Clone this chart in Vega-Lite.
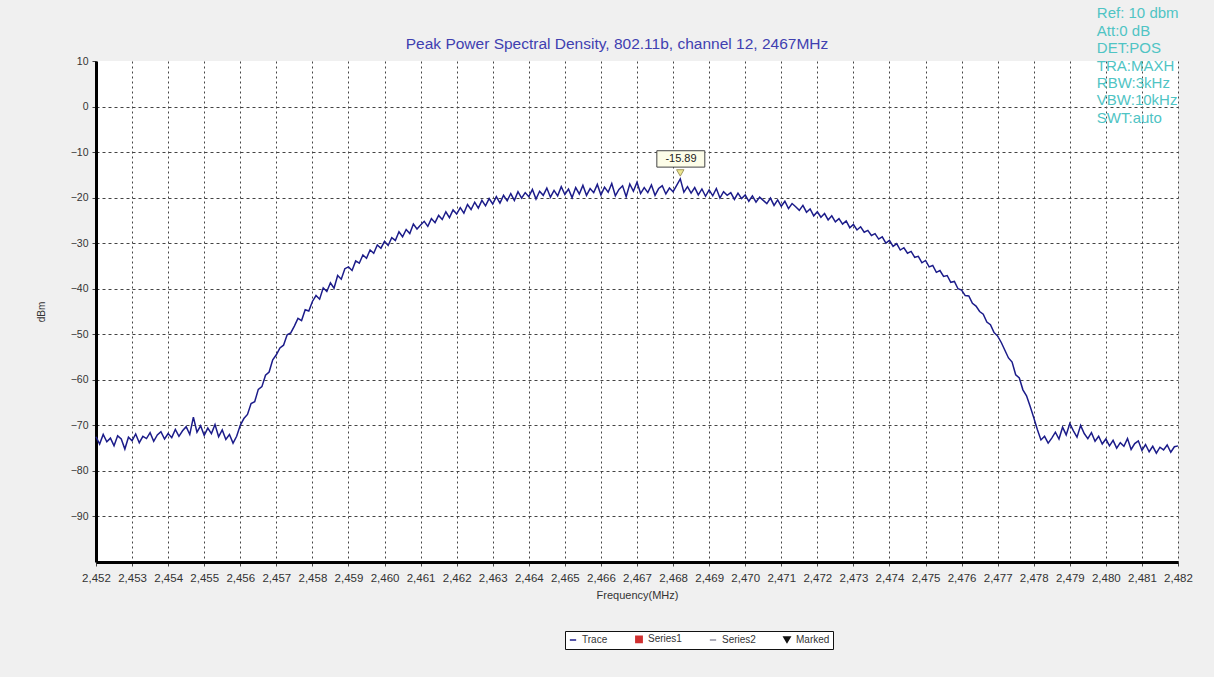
{
"$schema": "https://vega.github.io/schema/vega-lite/v6.json",
"width": 1082, "height": 501,
"autosize": {"type": "none"},
"padding": {"left": 96, "top": 61, "right": 36, "bottom": 115},
"background": "#f0f0f0",
"config": {"font": "Liberation Sans", "view": {"stroke": null, "fill": "white"},
"legend": {"orient": "none", "legendX": 469, "legendY": 570, "direction": "horizontal", "strokeColor": "#111", "fillColor": "white", "padding": 3, "labelFontSize": 10, "labelColor": "#333", "symbolSize": 40, "columnPadding": 24, "labelOffset": 4, "symbolStrokeWidth": 1.5, "labelBaseline": "middle"}},
"title": {"text": "Peak Power Spectral Density, 802.11b, channel 12, 2467MHz", "color": "#4040b0", "fontSize": 15.5, "fontWeight": "normal", "font": "Liberation Sans", "offset": 11, "dx": -20, "dy": 57},
"datasets": {
"trace": [
{"freq":2.4520,"dbm":-72.5},{"freq":2.4521,"dbm":-74.1},{"freq":2.4522,"dbm":-72.0},{"freq":2.4523,"dbm":-73.6},{"freq":2.4524,"dbm":-72.8},{"freq":2.4525,"dbm":-74.5},{"freq":2.4526,"dbm":-72.3},{"freq":2.4527,"dbm":-73.0},{"freq":2.4528,"dbm":-75.2},{"freq":2.4529,"dbm":-72.6},
{"freq":2.4530,"dbm":-73.4},{"freq":2.4531,"dbm":-71.9},{"freq":2.4532,"dbm":-73.8},{"freq":2.4533,"dbm":-72.4},{"freq":2.4534,"dbm":-72.9},{"freq":2.4535,"dbm":-71.6},{"freq":2.4536,"dbm":-73.5},{"freq":2.4537,"dbm":-72.1},{"freq":2.4538,"dbm":-71.4},{"freq":2.4539,"dbm":-73.0},
{"freq":2.4540,"dbm":-71.8},{"freq":2.4541,"dbm":-72.7},{"freq":2.4542,"dbm":-70.9},{"freq":2.4543,"dbm":-72.4},{"freq":2.4544,"dbm":-71.2},{"freq":2.4545,"dbm":-70.3},{"freq":2.4546,"dbm":-72.0},{"freq":2.4547,"dbm":-68.2},{"freq":2.4548,"dbm":-71.5},{"freq":2.4549,"dbm":-70.1},
{"freq":2.4550,"dbm":-72.2},{"freq":2.4551,"dbm":-70.6},{"freq":2.4552,"dbm":-71.8},{"freq":2.4553,"dbm":-69.8},{"freq":2.4554,"dbm":-72.5},{"freq":2.4555,"dbm":-71.0},{"freq":2.4556,"dbm":-73.1},{"freq":2.4557,"dbm":-72.0},{"freq":2.4558,"dbm":-73.9},{"freq":2.4559,"dbm":-72.4},
{"freq":2.4560,"dbm":-70.0},{"freq":2.4561,"dbm":-68.5},{"freq":2.4562,"dbm":-67.6},{"freq":2.4563,"dbm":-65.2},{"freq":2.4564,"dbm":-64.8},{"freq":2.4565,"dbm":-62.1},{"freq":2.4566,"dbm":-61.5},{"freq":2.4567,"dbm":-59.0},{"freq":2.4568,"dbm":-58.3},{"freq":2.4569,"dbm":-55.6},
{"freq":2.4570,"dbm":-54.5},{"freq":2.4571,"dbm":-53.0},{"freq":2.4572,"dbm":-52.4},{"freq":2.4573,"dbm":-50.1},{"freq":2.4574,"dbm":-49.7},{"freq":2.4575,"dbm":-48.2},{"freq":2.4576,"dbm":-46.5},{"freq":2.4577,"dbm":-47.0},{"freq":2.4578,"dbm":-44.6},{"freq":2.4579,"dbm":-44.9},
{"freq":2.4580,"dbm":-42.8},{"freq":2.4581,"dbm":-41.5},{"freq":2.4582,"dbm":-42.3},{"freq":2.4583,"dbm":-39.8},{"freq":2.4584,"dbm":-40.6},{"freq":2.4585,"dbm":-38.7},{"freq":2.4586,"dbm":-39.9},{"freq":2.4587,"dbm":-37.1},{"freq":2.4588,"dbm":-37.9},{"freq":2.4589,"dbm":-35.6},
{"freq":2.4590,"dbm":-35.2},{"freq":2.4591,"dbm":-36.0},{"freq":2.4592,"dbm":-33.9},{"freq":2.4593,"dbm":-34.4},{"freq":2.4594,"dbm":-32.6},{"freq":2.4595,"dbm":-33.3},{"freq":2.4596,"dbm":-31.5},{"freq":2.4597,"dbm":-32.2},{"freq":2.4598,"dbm":-30.4},{"freq":2.4599,"dbm":-31.1},
{"freq":2.4600,"dbm":-29.6},{"freq":2.4601,"dbm":-30.5},{"freq":2.4602,"dbm":-28.8},{"freq":2.4603,"dbm":-29.4},{"freq":2.4604,"dbm":-27.5},{"freq":2.4605,"dbm":-28.6},{"freq":2.4606,"dbm":-27.0},{"freq":2.4607,"dbm":-27.9},{"freq":2.4608,"dbm":-25.8},{"freq":2.4609,"dbm":-26.9},
{"freq":2.4610,"dbm":-26.0},{"freq":2.4611,"dbm":-25.2},{"freq":2.4612,"dbm":-26.3},{"freq":2.4613,"dbm":-24.6},{"freq":2.4614,"dbm":-25.5},{"freq":2.4615,"dbm":-23.9},{"freq":2.4616,"dbm":-24.8},{"freq":2.4617,"dbm":-23.1},{"freq":2.4618,"dbm":-24.4},{"freq":2.4619,"dbm":-22.7},
{"freq":2.4620,"dbm":-23.6},{"freq":2.4621,"dbm":-22.2},{"freq":2.4622,"dbm":-23.4},{"freq":2.4623,"dbm":-21.5},{"freq":2.4624,"dbm":-22.6},{"freq":2.4625,"dbm":-21.0},{"freq":2.4626,"dbm":-22.3},{"freq":2.4627,"dbm":-20.6},{"freq":2.4628,"dbm":-21.8},{"freq":2.4629,"dbm":-20.2},
{"freq":2.4630,"dbm":-21.4},{"freq":2.4631,"dbm":-19.8},{"freq":2.4632,"dbm":-21.2},{"freq":2.4633,"dbm":-19.5},{"freq":2.4634,"dbm":-20.7},{"freq":2.4635,"dbm":-19.1},{"freq":2.4636,"dbm":-20.6},{"freq":2.4637,"dbm":-18.7},{"freq":2.4638,"dbm":-20.1},{"freq":2.4639,"dbm":-18.9},
{"freq":2.4640,"dbm":-19.8},{"freq":2.4641,"dbm":-18.2},{"freq":2.4642,"dbm":-20.3},{"freq":2.4643,"dbm":-18.6},{"freq":2.4644,"dbm":-19.5},{"freq":2.4645,"dbm":-17.9},{"freq":2.4646,"dbm":-19.9},{"freq":2.4647,"dbm":-18.4},{"freq":2.4648,"dbm":-19.6},{"freq":2.4649,"dbm":-17.6},
{"freq":2.4650,"dbm":-19.3},{"freq":2.4651,"dbm":-18.1},{"freq":2.4652,"dbm":-20.0},{"freq":2.4653,"dbm":-17.8},{"freq":2.4654,"dbm":-19.2},{"freq":2.4655,"dbm":-17.3},{"freq":2.4656,"dbm":-19.5},{"freq":2.4657,"dbm":-18.0},{"freq":2.4658,"dbm":-18.9},{"freq":2.4659,"dbm":-17.1},
{"freq":2.4660,"dbm":-19.4},{"freq":2.4661,"dbm":-17.7},{"freq":2.4662,"dbm":-18.8},{"freq":2.4663,"dbm":-16.9},{"freq":2.4664,"dbm":-19.6},{"freq":2.4665,"dbm":-18.2},{"freq":2.4666,"dbm":-17.4},{"freq":2.4667,"dbm":-19.8},{"freq":2.4668,"dbm":-17.0},{"freq":2.4669,"dbm":-18.6},
{"freq":2.4670,"dbm":-16.6},{"freq":2.4671,"dbm":-19.1},{"freq":2.4672,"dbm":-17.8},{"freq":2.4673,"dbm":-18.9},{"freq":2.4674,"dbm":-17.2},{"freq":2.4675,"dbm":-19.5},{"freq":2.4676,"dbm":-18.0},{"freq":2.4677,"dbm":-17.4},{"freq":2.4678,"dbm":-19.2},{"freq":2.4679,"dbm":-17.9},
{"freq":2.4680,"dbm":-18.7},{"freq":2.4681,"dbm":-17.3},{"freq":2.4682,"dbm":-15.89},{"freq":2.4683,"dbm":-18.8},{"freq":2.4684,"dbm":-17.6},{"freq":2.4685,"dbm":-19.0},{"freq":2.4686,"dbm":-17.8},{"freq":2.4687,"dbm":-19.4},{"freq":2.4688,"dbm":-18.1},{"freq":2.4689,"dbm":-19.7},
{"freq":2.4690,"dbm":-18.3},{"freq":2.4691,"dbm":-19.6},{"freq":2.4692,"dbm":-18.0},{"freq":2.4693,"dbm":-20.1},{"freq":2.4694,"dbm":-18.7},{"freq":2.4695,"dbm":-19.5},{"freq":2.4696,"dbm":-18.9},{"freq":2.4697,"dbm":-20.4},{"freq":2.4698,"dbm":-19.0},{"freq":2.4699,"dbm":-20.2},
{"freq":2.4700,"dbm":-19.4},{"freq":2.4701,"dbm":-20.8},{"freq":2.4702,"dbm":-19.6},{"freq":2.4703,"dbm":-21.0},{"freq":2.4704,"dbm":-19.9},{"freq":2.4705,"dbm":-20.6},{"freq":2.4706,"dbm":-21.3},{"freq":2.4707,"dbm":-20.1},{"freq":2.4708,"dbm":-21.7},{"freq":2.4709,"dbm":-20.5},
{"freq":2.4710,"dbm":-21.9},{"freq":2.4711,"dbm":-20.8},{"freq":2.4712,"dbm":-22.4},{"freq":2.4713,"dbm":-21.3},{"freq":2.4714,"dbm":-22.0},{"freq":2.4715,"dbm":-22.8},{"freq":2.4716,"dbm":-21.7},{"freq":2.4717,"dbm":-23.2},{"freq":2.4718,"dbm":-22.5},{"freq":2.4719,"dbm":-24.0},
{"freq":2.4720,"dbm":-23.1},{"freq":2.4721,"dbm":-24.3},{"freq":2.4722,"dbm":-23.5},{"freq":2.4723,"dbm":-24.9},{"freq":2.4724,"dbm":-24.0},{"freq":2.4725,"dbm":-25.3},{"freq":2.4726,"dbm":-24.6},{"freq":2.4727,"dbm":-25.8},{"freq":2.4728,"dbm":-25.1},{"freq":2.4729,"dbm":-26.6},
{"freq":2.4730,"dbm":-25.9},{"freq":2.4731,"dbm":-27.1},{"freq":2.4732,"dbm":-26.4},{"freq":2.4733,"dbm":-27.6},{"freq":2.4734,"dbm":-27.2},{"freq":2.4735,"dbm":-28.3},{"freq":2.4736,"dbm":-27.9},{"freq":2.4737,"dbm":-29.1},{"freq":2.4738,"dbm":-28.6},{"freq":2.4739,"dbm":-30.0},
{"freq":2.4740,"dbm":-29.4},{"freq":2.4741,"dbm":-30.7},{"freq":2.4742,"dbm":-30.1},{"freq":2.4743,"dbm":-31.5},{"freq":2.4744,"dbm":-31.0},{"freq":2.4745,"dbm":-32.2},{"freq":2.4746,"dbm":-31.8},{"freq":2.4747,"dbm":-33.1},{"freq":2.4748,"dbm":-32.9},{"freq":2.4749,"dbm":-34.3},
{"freq":2.4750,"dbm":-33.8},{"freq":2.4751,"dbm":-35.2},{"freq":2.4752,"dbm":-34.9},{"freq":2.4753,"dbm":-36.4},{"freq":2.4754,"dbm":-36.0},{"freq":2.4755,"dbm":-37.3},{"freq":2.4756,"dbm":-37.1},{"freq":2.4757,"dbm":-38.6},{"freq":2.4758,"dbm":-38.4},{"freq":2.4759,"dbm":-40.0},
{"freq":2.4760,"dbm":-40.3},{"freq":2.4761,"dbm":-41.5},{"freq":2.4762,"dbm":-41.6},{"freq":2.4763,"dbm":-43.2},{"freq":2.4764,"dbm":-43.8},{"freq":2.4765,"dbm":-45.0},{"freq":2.4766,"dbm":-45.6},{"freq":2.4767,"dbm":-47.3},{"freq":2.4768,"dbm":-47.9},{"freq":2.4769,"dbm":-49.6},
{"freq":2.4770,"dbm":-50.4},{"freq":2.4771,"dbm":-51.8},{"freq":2.4772,"dbm":-53.5},{"freq":2.4773,"dbm":-55.2},{"freq":2.4774,"dbm":-56.1},{"freq":2.4775,"dbm":-58.9},{"freq":2.4776,"dbm":-59.6},{"freq":2.4777,"dbm":-62.2},{"freq":2.4778,"dbm":-63.5},{"freq":2.4779,"dbm":-65.8},
{"freq":2.4780,"dbm":-68.3},{"freq":2.4781,"dbm":-70.9},{"freq":2.4782,"dbm":-73.2},{"freq":2.4783,"dbm":-72.4},{"freq":2.4784,"dbm":-73.9},{"freq":2.4785,"dbm":-72.8},{"freq":2.4786,"dbm":-71.5},{"freq":2.4787,"dbm":-73.0},{"freq":2.4788,"dbm":-70.4},{"freq":2.4789,"dbm":-72.1},
{"freq":2.4790,"dbm":-69.6},{"freq":2.4791,"dbm":-71.2},{"freq":2.4792,"dbm":-72.6},{"freq":2.4793,"dbm":-70.0},{"freq":2.4794,"dbm":-71.8},{"freq":2.4795,"dbm":-72.9},{"freq":2.4796,"dbm":-71.6},{"freq":2.4797,"dbm":-73.5},{"freq":2.4798,"dbm":-72.4},{"freq":2.4799,"dbm":-74.1},
{"freq":2.4800,"dbm":-73.0},{"freq":2.4801,"dbm":-74.5},{"freq":2.4802,"dbm":-73.3},{"freq":2.4803,"dbm":-75.0},{"freq":2.4804,"dbm":-73.8},{"freq":2.4805,"dbm":-74.6},{"freq":2.4806,"dbm":-72.9},{"freq":2.4807,"dbm":-75.3},{"freq":2.4808,"dbm":-74.0},{"freq":2.4809,"dbm":-73.4},
{"freq":2.4810,"dbm":-75.5},{"freq":2.4811,"dbm":-74.2},{"freq":2.4812,"dbm":-75.8},{"freq":2.4813,"dbm":-74.6},{"freq":2.4814,"dbm":-76.1},{"freq":2.4815,"dbm":-74.8},{"freq":2.4816,"dbm":-75.4},{"freq":2.4817,"dbm":-74.3},{"freq":2.4818,"dbm":-75.9},{"freq":2.4819,"dbm":-74.7},
{"freq":2.4820,"dbm":-74.5}
],
"marker": [{"freq":2.4682,"dbm":-15.89,"series":"Marked","label":"-15.89"}]
},
"encoding": {
"x": {"field": "freq", "type": "quantitative", "title": "Frequency(MHz)",
"scale": {"domain": [2.452, 2.482], "nice": false, "zero": false},
"axis": {"values": [2.452,2.453,2.454,2.455,2.456,2.457,2.458,2.459,2.46,2.461,2.462,2.463,2.464,2.465,2.466,2.467,2.468,2.469,2.47,2.471,2.472,2.473,2.474,2.475,2.476,2.477,2.478,2.479,2.48,2.481,2.482],
"labelExpr": "replace(format(datum.value, '.3f'), '.', ',')",
"labelFontSize": 11.5, "labelColor": "#333", "labelPadding": 6, "labelOverlap": false, "labelFlush": false,
"domainColor": "black", "domainWidth": 3, "tickColor": "#444", "tickSize": 4,
"grid": true, "gridColor": "#444", "gridDash": [2, 3], "gridWidth": 1,
"titleFontSize": 11, "titleFontWeight": "normal", "titleColor": "#333", "titlePadding": 6}},
"y": {"field": "dbm", "type": "quantitative", "title": "dBm",
"scale": {"domain": [-100, 10], "nice": false, "zero": false},
"axis": {"values": [10,0,-10,-20,-30,-40,-50,-60,-70,-80,-90],
"labelFontSize": 10.5, "labelColor": "#333", "labelPadding": 4,
"domainColor": "black", "domainWidth": 3, "tickColor": "#444", "tickSize": 4,
"grid": true, "gridColor": "#444", "gridDash": [3, 3], "gridWidth": 1,
"gridOpacity": {"expr": "datum.value == 10 ? 0 : 1"},
"titleFontSize": 10, "titleFontWeight": "normal", "titleColor": "#333", "titlePadding": 24}}
},
"layer": [
{"data": {"name": "trace"}, "mark": {"type": "line", "strokeWidth": 1.5},
"encoding": {"color": {"datum": "Trace", "type": "nominal",
"scale": {"domain": ["Trace", "Series1", "Series2", "Marked"], "range": ["#1c1c8a", "#d03030", "#9090a0", "#111111"]},
"legend": {"title": null, "orient": "none", "legendX": 469, "legendY": 570, "direction": "horizontal",
"symbolType": "stroke",
"encode": {"symbols": {"update": {"fill": {"scale": "color", "field": "value"}, "stroke": {"scale": "color", "field": "value"}}}}}}}},
{"data": {"name": "marker"}, "mark": {"type": "point", "filled": true, "size": 55, "yOffset": -6, "strokeWidth": 1},
"encoding": {"color": {"field": "series", "type": "nominal", "legend": {"title": null, "orient": "none", "legendX": 469, "legendY": 570, "direction": "horizontal",
"encode": {"symbols": {"update": {"fill": {"scale": "color", "field": "value"}, "stroke": {"scale": "color", "field": "value"}}}}}},
"shape": {"field": "series", "type": "nominal", "scale": {"domain": ["Trace", "Series1", "Series2", "Marked"], "range": ["stroke", "square", "stroke", "triangle-down"]},
"legend": {"title": null, "orient": "none", "legendX": 469, "legendY": 570, "direction": "horizontal",
"encode": {"symbols": {"update": {"fill": {"scale": "color", "field": "value"}, "stroke": {"scale": "color", "field": "value"}}}}}},
"fill": {"value": "#e6dc60"}, "stroke": {"value": "#7a6e20"}}},
{"data": {"name": "marker"}, "mark": {"type": "rect", "fill": "#fdfde8", "stroke": "#444", "strokeWidth": 1},
"encoding": {"x": {"datum": 2.46755}, "x2": {"datum": 2.46888}, "y": {"datum": -9.7}, "y2": {"datum": -13.3}}},
{"data": {"name": "marker"}, "mark": {"type": "text", "fontSize": 11, "color": "#222", "baseline": "middle", "align": "center"},
"encoding": {"x": {"datum": 2.46822}, "y": {"datum": -11.5}, "text": {"field": "label"}}},
{"data": {"name": "marker"}, "mark": {"type": "text", "fontSize": 15, "color": "#4fc4c4", "align": "left", "baseline": "top", "lineHeight": 17.4},
"encoding": {"x": {"datum": 2.47975}, "y": {"datum": 22}, "text": {"value": ["Ref: 10 dbm", "Att:0 dB", "DET:POS", "TRA:MAXH", "RBW:3kHz", "VBW:10kHz", "SWT:auto"]}}}
],
"resolve": {"scale": {"color": "shared", "shape": "shared"}}
}
